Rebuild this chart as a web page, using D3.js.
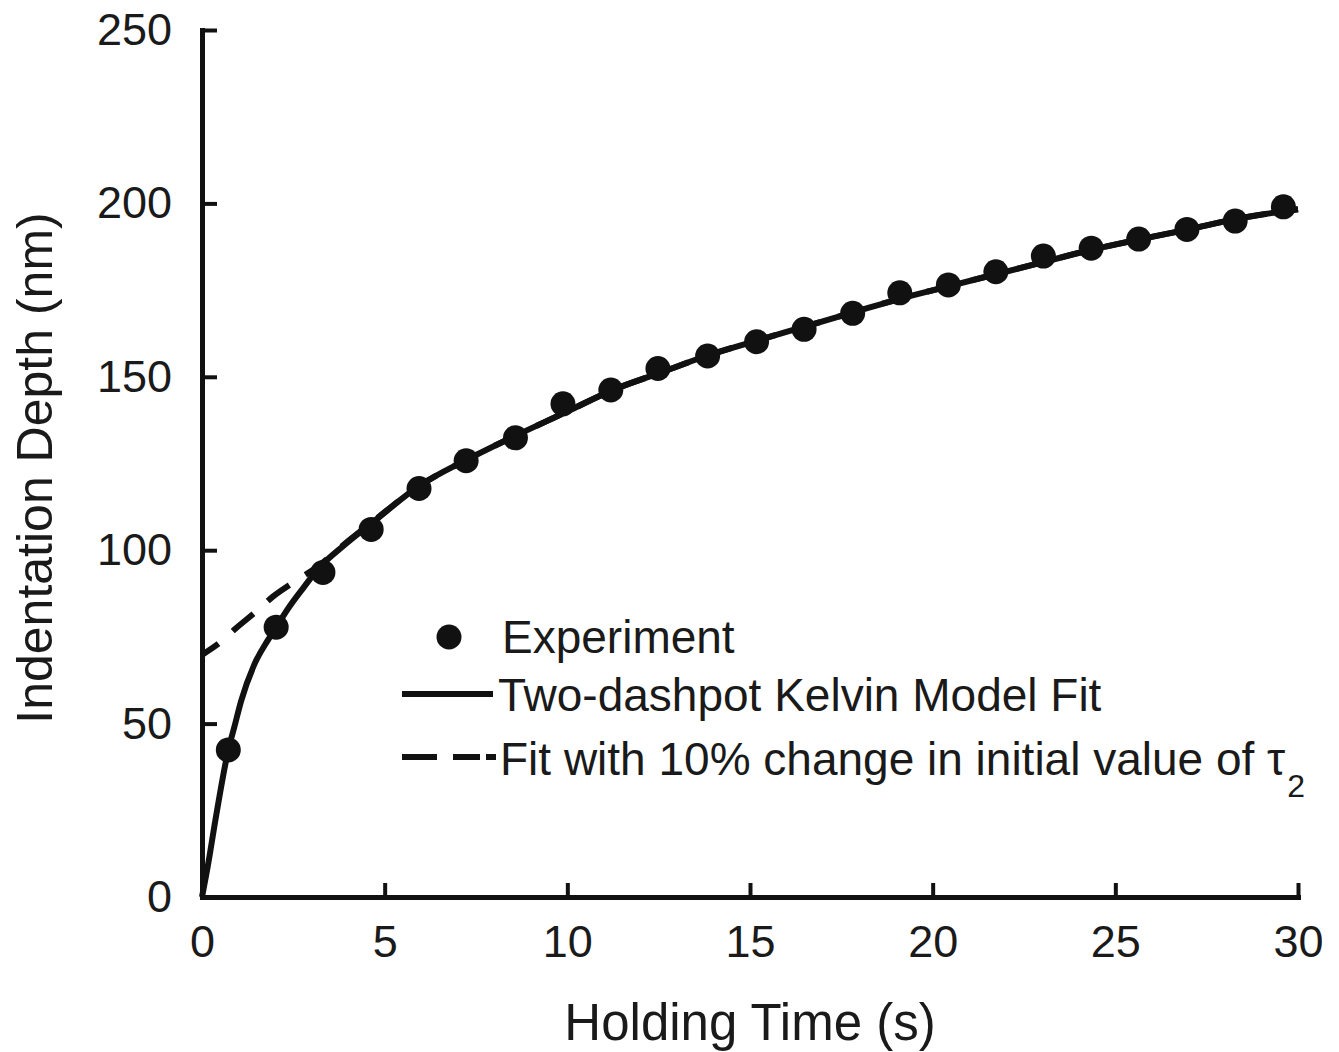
<!DOCTYPE html>
<html>
<head>
<meta charset="utf-8">
<script src="https://cdn.jsdelivr.net/npm/d3@7"></script>
<style>
  html, body { margin: 0; padding: 0; background: #fff; }
  svg { display: block; }
  text { font-family: "Liberation Sans", Arial, Helvetica, sans-serif; fill: #1a1a1a; }
</style>
</head>
<body>
<svg id="chart" width="1339" height="1052"></svg>
<script>
// ---- Data ----
const expTime  = [0.72, 2.03, 3.31, 4.63, 5.94, 7.23, 8.58, 9.88, 11.19, 12.48, 13.84, 15.18, 16.48, 17.81, 19.10, 20.43, 21.73, 23.03, 24.34, 25.64, 26.96, 28.28, 29.60];
const expDepth = [42.4, 77.8, 93.6, 106.0, 117.8, 125.8, 132.4, 142.2, 146.2, 152.4, 156.0, 160.1, 163.7, 168.3, 174.2, 176.5, 180.3, 184.8, 187.1, 189.7, 192.5, 194.9, 199.0];

const fitTime  = [0, 0.16, 0.38, 0.72, 0.885, 1.07, 1.43, 1.8, 2.03, 2.39, 2.8, 3.17, 3.9, 4.67, 5.94, 7.23, 8.58, 10, 11.2, 12.5, 13.8, 15.2, 16.5, 17.8, 19.1, 20.4, 21.7, 23, 24.3, 25.6, 27, 28.3, 30];
const fitDepth = [0, 9, 23, 42.4, 49, 56.5, 67, 74, 77.8, 83.7, 89.5, 94.5, 101.5, 108, 118.5, 126, 133, 140, 146, 151, 156, 160.5, 164.5, 168.5, 172.5, 176, 179.5, 183, 186.5, 189.5, 192.5, 195.5, 198.3];

const altTime  = [0, 0.52, 0.93, 1.48, 1.94, 2.53, 3.17, 3.9, 4.67, 5.94, 7.23, 8.58, 10, 11.2, 12.5, 13.8, 15.2, 16.5, 17.8, 19.1, 20.4, 21.7, 23, 24.3, 25.6, 27, 28.3, 30];
const altDepth = [69.8, 73.6, 77.5, 82.3, 86.6, 90.9, 95.3, 101.8, 108.2, 118.5, 126, 133, 140, 146, 151, 156, 160.5, 164.5, 168.5, 172.5, 176, 179.5, 183, 186.5, 189.5, 192.5, 195.5, 198.3];

const xTicks = [0, 5, 10, 15, 20, 25, 30];
const yTicks = [0, 50, 100, 150, 200, 250];

const xTitle = "Holding Time (s)";
const yTitle = "Indentation Depth (nm)";
const legendLabels = ["Experiment", "Two-dashpot Kelvin Model Fit", "Fit with 10% change in initial value of \u03C4"];

// ---- Layout ----
const svg = d3.select("#chart");
const x = d3.scaleLinear().domain([0, 30]).range([202, 1298]);
const y = d3.scaleLinear().domain([0, 250]).range([897, 30]);
const ink = "#111";

// Axes
const xAxis = d3.axisBottom(x).tickValues(xTicks).tickSize(-14).tickSizeOuter(0).tickPadding(28);
const yAxis = d3.axisLeft(y).tickValues(yTicks).tickSize(-15).tickSizeOuter(0).tickPadding(30);

const gx = svg.append("g").attr("transform", `translate(0,${y(0)})`).call(xAxis);
const gy = svg.append("g").attr("transform", `translate(${x(0)},0)`).call(yAxis);
[gx, gy].forEach(g => {
  g.select(".domain").attr("stroke", ink).attr("stroke-width", 5).attr("stroke-linecap", "square");
  g.selectAll(".tick line").attr("stroke", ink).attr("stroke-width", 4);
  g.selectAll(".tick text").style("font-size", "45px").attr("fill", "#1a1a1a")
    .style("font-family", '"Liberation Sans", Arial, sans-serif');
});

// Axis titles
svg.append("text").attr("x", 750).attr("y", 1040).attr("text-anchor", "middle")
  .style("font-size", "51px").text(xTitle);
svg.append("text").attr("transform", `translate(52,${468}) rotate(-90)`).attr("text-anchor", "middle")
  .style("font-size", "50px").text(yTitle);

// Lines
const line = d3.line().x(d => x(d[0])).y(d => y(d[1])).curve(d3.curveMonotoneX);
const altData = altTime.map((t, i) => [t, altDepth[i]]);
const fitData = fitTime.map((t, i) => [t, fitDepth[i]]);

svg.append("path").datum(altData).attr("d", line)
  .attr("fill", "none").attr("stroke", ink).attr("stroke-width", 6)
  .attr("stroke-dasharray", "27,19").attr("stroke-dashoffset", 7);
svg.append("path").datum(fitData).attr("d", line)
  .attr("fill", "none").attr("stroke", ink).attr("stroke-width", 6);

// Points
svg.append("g").selectAll("circle").data(expTime.map((t, i) => [t, expDepth[i]]))
  .join("circle").attr("cx", d => x(d[0])).attr("cy", d => y(d[1])).attr("r", 12.5).attr("fill", ink);

// Legend
const lg = svg.append("g");
lg.append("circle").attr("cx", 449).attr("cy", 637).attr("r", 12.5).attr("fill", ink);
lg.append("text").attr("x", 502).attr("y", 653).style("font-size", "46px").text(legendLabels[0]);
lg.append("line").attr("x1", 402).attr("x2", 493).attr("y1", 694).attr("y2", 694)
  .attr("stroke", ink).attr("stroke-width", 6);
lg.append("text").attr("x", 498).attr("y", 711).style("font-size", "46px").text(legendLabels[1]);
lg.append("line").attr("x1", 402).attr("x2", 496).attr("y1", 757).attr("y2", 757)
  .attr("stroke", ink).attr("stroke-width", 6).attr("stroke-dasharray", "35,16,27,6,10");
const t3 = lg.append("text").attr("x", 500).attr("y", 775).style("font-size", "46px");
t3.append("tspan").text(legendLabels[2]);
t3.append("tspan").attr("dx", 2).attr("dy", 22).style("font-size", "32px").text("2");
</script>
</body>
</html>
